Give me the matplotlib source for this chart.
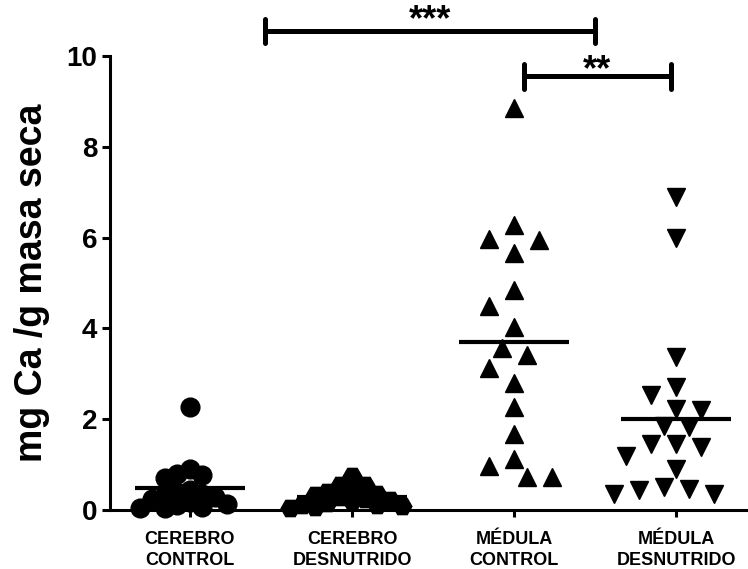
import matplotlib
matplotlib.use('Agg')
import matplotlib.pyplot as plt
import numpy as np

plt.rcParams['font.family'] = ['Liberation Sans', 'DejaVu Sans']
plt.rcParams['font.weight'] = 'bold'

# data (mg Ca / g masa seca)
groups = ['CEREBRO\nCONTROL', 'CEREBRO\nDESNUTRIDO', 'MÉDULA\nCONTROL', 'MÉDULA\nDESNUTRIDO']
cerebro_control = [2.27, 0.90, 0.80, 0.76, 0.70, 0.45, 0.40, 0.36, 0.32, 0.28,
                   0.24, 0.18, 0.14, 0.10, 0.07, 0.05, 0.04]
cerebro_desnutrido = [0.75, 0.55, 0.55, 0.44, 0.40, 0.36, 0.32, 0.28, 0.25,
                      0.22, 0.19, 0.15, 0.12, 0.10, 0.08, 0.06, 0.05]
medula_control = [8.85, 6.27, 5.97, 5.94, 5.66, 4.84, 4.50, 4.02, 3.56, 3.42,
                  3.12, 2.79, 2.27, 1.67, 1.12, 0.97, 0.72, 0.72]
medula_desnutrido = [6.90, 5.98, 3.37, 2.70, 2.54, 2.23, 2.20, 1.84, 1.83, 1.46,
                     1.46, 1.39, 1.20, 0.91, 0.51, 0.47, 0.44, 0.35, 0.35]
all_data = [cerebro_control, cerebro_desnutrido, medula_control, medula_desnutrido]
markers = ['o', 'H', '^', 'v']
# minimum spacing (px) used by the swarm for each column
spacing = [12, 11, 21, 19]

# significance brackets: (from, to, label, height)
brackets = [(1.46, 3.5, '***', 10.55), (3.06, 3.97, '**', 9.55)]
star_gap = [0.02, -0.08]

fig = plt.figure(figsize=(7.48, 5.69), dpi=100)
ax = fig.add_axes([0.147, 0.1037, 0.853, 0.798])
ax.set_xlim(0.506, 4.444)
ax.set_ylim(0, 10)

pos = np.arange(1, len(all_data) + 1)


def swarm(vals, center, diam_px, step_px=12.5):
    # simple beeswarm: put each point in the nearest free column
    tr = ax.transData
    placed = []
    xs = []
    for v in vals:
        x0, y0 = tr.transform((center, v))
        for k in [0, -1, 1, -2, 2, -3, 3, -4, 4, -5, 5, -6, 6]:
            xp = x0 + k * step_px
            if all((xp - a) ** 2 + (y0 - b) ** 2 >= diam_px ** 2 for a, b in placed):
                break
        placed.append((xp, y0))
        xs.append(tr.inverted().transform((xp, y0))[0])
    return xs


for i, vals in enumerate(all_data):
    vals = sorted(vals, reverse=True)
    xs = swarm(vals, pos[i], spacing[i])
    ax.plot(xs, vals, linestyle='none', marker=markers[i], ms=13.5, color='black',
            mec='black', clip_on=False, zorder=3)
    m = np.mean(vals)
    ax.plot([pos[i] - 0.34, pos[i] + 0.34], [m, m], color='black', lw=3,
            solid_capstyle='butt', zorder=4, clip_on=False)

for (x1, x2, lab, y), g in zip(brackets, star_gap):
    ax.plot([x1, x2], [y, y], color='black', lw=3.6, clip_on=False, solid_capstyle='butt')
    for xx in (x1, x2):
        ax.plot([xx, xx], [y - 0.27, y + 0.27], color='black', lw=3.6, clip_on=False,
                solid_capstyle='round')
    ax.text((x1 + x2) / 2, y + g, lab, ha='center', va='baseline', fontsize=26,
            fontweight='bold', clip_on=False)

ax.spines['top'].set_visible(False)
ax.spines['right'].set_visible(False)
ax.spines['left'].set_linewidth(2.2)
ax.spines['bottom'].set_linewidth(2.2)

ax.set_yticks([0, 2, 4, 6, 8, 10])
ax.tick_params(axis='y', length=6, width=2.2, labelsize=20, pad=3)
ax.set_xticks(pos)
ax.set_xticklabels(groups, fontsize=13, fontweight='bold', linespacing=1.35)
ax.tick_params(axis='x', length=5, width=2.2, pad=10)
for t in ax.get_yticklabels():
    t.set_fontweight('bold')

ax.set_ylabel('mg Ca /g masa seca', fontsize=27, fontweight='bold', labelpad=12)

fig.savefig('out.png', dpi=100)
